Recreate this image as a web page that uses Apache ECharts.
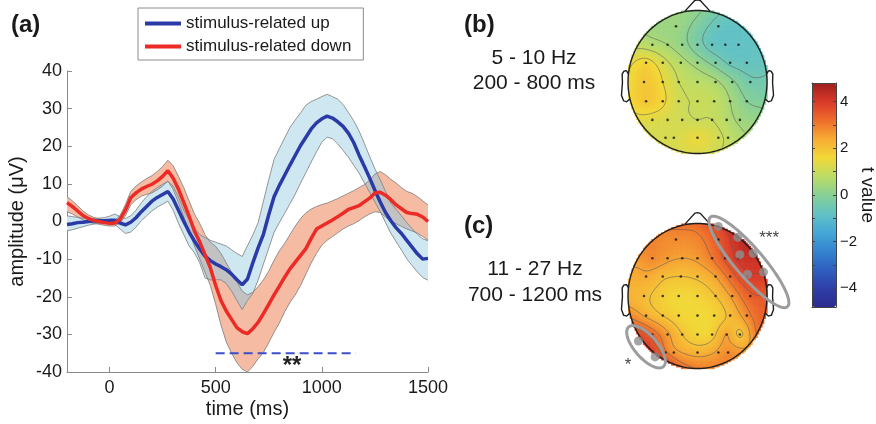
<!DOCTYPE html>
<html>
<head>
<meta charset="utf-8">
<script src="https://cdn.jsdelivr.net/npm/echarts@6/dist/echarts.min.js"></script>
<style>html,body{margin:0;padding:0;background:#fff}#chart{width:876px;height:424px}</style>
</head>
<body>
<div id="chart"></div>
<script>
// ===================== DATA =====================
const times = [-200,-175,-150,-125, -100,-75,-50,-25, 0,25,50,75, 100,125,150,175, 200,225,250,275,
  300,325,350,375, 400,425,450,475, 500,525,550,575, 600,625,650,675, 700,725,750,775, 800,825,850,875,
  900,925,950,975, 1000,1025,1050,1075, 1100,1125,1150,1175, 1200,1225,1250,1275, 1300,1325,1350,1375,
  1400,1425,1450,1475, 1500];

const blueMean = [-0.8,-0.6,-0.3,-0.2, 0.0,0.1,0.2,0.2, 0.3,0.3,-0.4,-0.9, -0.2,1.0,2.6,4.0, 5.4,6.4,7.2,8.0,
  6.0,3.0,0.0,-2.8, -5.2,-7.3,-9.2,-10.4, -11.3,-12.0,-12.8,-14.0, -15.5,-16.8,-15.3,-11.0, -7.0,-3.4,1.8,6.6,
  9.6,12.3,15.0,17.6, 20.2,22.4,24.6,26.2, 27.3,28.0,27.5,26.5, 25.3,23.5,21.0,17.7, 14.7,11.6,8.3,5.2,
  2.4,0.2,-1.7,-3.2, -5.0,-6.8,-8.6,-10.0, -9.8];
const blueHigh = [1.5,1.3,1.1,0.9, 0.8,0.8,0.9,1.0, 1.4,2.0,1.3,0.8, 1.5,3.0,5.0,6.6, 8.0,9.0,9.9,10.6,
  9.4,6.5,3.0,0.5, -1.7,-3.5,-4.3,-5.0, -5.5,-6.0,-6.5,-7.5, -8.5,-9.3,-6.4,-3.6, -0.3,5.4,11.1,16.5,
  19.4,22.2,25.0,27.0, 28.9,30.9,31.9,32.5, 33.2,33.8,33.2,32.5, 31.1,29.0,26.8,24.1, 20.8,17.3,14.0,11.1,
  8.0,4.9,3.2,1.5, -0.3,-1.9,-3.4,-4.6, -5.1];
const blueLow = [-2.5,-2.2,-1.8,-1.4, -1.0,-0.7,-0.5,-0.4, -0.5,-0.8,-2.0,-3.2, -2.8,-1.5,0.2,1.5, 2.8,3.8,4.6,5.4,
  3.0,-0.5,-3.5,-6.5, -8.3,-11.0,-15.0,-15.5, -15.5,-15.5,-16.5,-18.5, -21.0,-23.4,-21.0,-19.1, -15.6,-11.3,-7.1,-2.9,
  -0.3,2.2,4.7,7.3, 10.2,13.0,15.8,18.5, 21.1,22.4,22.0,20.6, 18.9,17.1,15.0,12.9, 10.3,7.8,5.2,2.6,
  -0.3,-3.1,-5.4,-7.6, -9.9,-11.7,-13.4,-14.9, -15.6];

const redMean = [5.0,4.0,2.8,1.6, 0.8,0.3,0.0,-0.3, -0.5,-0.4,0.6,3.0, 6.3,7.6,8.6,9.3, 9.9,10.8,12.0,13.5,
  11.5,8.6,5.0,1.4, -2.5,-5.4,-8.8,-12.3, -17.0,-21.0,-23.8,-26.0, -28.2,-29.3,-29.8,-28.5, -26.8,-24.5,-22.0,-19.5,
  -17.2,-14.8,-12.6,-10.8, -9.0,-7.2,-4.5,-2.0, -1.2,-0.4,0.4,1.3, 2.2,3.2,3.7,4.2, 5.2,6.2,7.6,7.8,
  7.0,5.8,4.4,3.4, 2.4,2.1,1.9,1.2, 0.0];
const redHigh = [6.6,5.5,4.2,2.8, 1.8,1.1,0.7,0.4, 0.2,0.4,1.6,4.5, 8.0,9.4,10.5,11.4, 12.2,13.3,14.6,16.3,
  14.8,12.0,9.0,5.5, 2.0,-0.5,-3.5,-5.5, -6.6,-8.5,-11.0,-13.5, -16.0,-18.5,-19.5,-18.8, -17.3,-15.5,-13.2,-10.3,
  -7.8,-5.8,-3.5,-1.2, 0.8,2.3,3.3,4.0, 4.5,4.9,5.5,6.1, 6.8,7.5,8.2,9.0, 9.8,11.0,12.6,13.3,
  12.4,11.2,10.2,9.0, 8.0,7.5,6.6,5.5, 4.4];
const redLow = [2.6,2.0,1.2,0.4, -0.2,-0.5,-0.7,-1.0, -1.2,-1.2,-0.4,1.5, 4.4,5.8,6.7,7.2, 7.6,8.4,9.4,10.8,
  8.5,5.0,1.2,-2.5, -6.5,-10.0,-13.5,-17.0, -22.0,-27.5,-32.0,-35.0, -37.5,-39.3,-40.0,-38.5, -36.5,-34.8,-32.2,-29.5,
  -27.0,-24.0,-21.5,-19.5, -17.0,-14.0,-11.0,-8.5, -6.3,-5.0,-4.0,-3.0, -2.0,-1.2,-0.6,0.2, 1.2,2.0,2.6,2.4,
  1.2,0.0,-0.6,-1.3, -2.0,-2.5,-3.1,-4.0, -4.9];

const seriesNames = ['stimulus-related up', 'stimulus-related down'];
const xTicks = [0, 500, 1000, 1500];
const sigWindow = [500, 1160];
const sigLevel = -35;
const sigStars = '**';
const sigStarsAt = [860, -38.5];

// electrode montage (normalised head coordinates) and t-values per electrode
const elecX = [-0.31,0.30,
  -0.65,-0.43,-0.22,0.0,0.21,0.40,0.59,
  -0.74,-0.50,-0.24,0.0,0.26,0.47,0.71,
  -0.77,-0.50,-0.27,0.0,0.26,0.50,0.76,
  -0.74,-0.50,-0.27,0.0,0.24,0.47,0.71,
  -0.65,-0.43,-0.22,0.0,0.21,0.42,0.61,
  -0.46,-0.34,0.0,0.30,0.44];
const elecY = [0.78,0.78,
  0.52,0.52,0.52,0.52,0.52,0.52,0.52,
  0.27,0.27,0.27,0.27,0.27,0.27,0.27,
  0.0,0.0,0.0,0.0,0.0,0.0,0.0,
  -0.27,-0.27,-0.27,-0.27,-0.27,-0.27,-0.27,
  -0.53,-0.53,-0.53,-0.53,-0.53,-0.53,-0.53,
  -0.78,-0.78,-0.78,-0.78,-0.78];
const ringAngles = [0,30,60,90,120,150,180,210,240,270,300,330];

const tValuesB = [0.3,-0.7,
  0.7,0.5,0.2,-0.3,-0.7,-0.8,-0.8,
  1.7,1.2,0.7,0.3,-0.2,-0.6,-0.7,
  1.9,1.5,1.0,0.8,0.6,0.1,-0.4,
  1.9,1.6,1.1,1.0,0.9,0.5,0.0,
  1.3,1.2,1.1,1.0,1.0,0.7,0.4,
  1.2,1.2,1.5,1.1,0.9];
const ringValuesB = [-0.4,-0.75,-0.75,0.1,0.3,0.9,1.5,1.4,1.2,1.2,0.8,0.2];

const tValuesC = [2.8,3.5,
  2.8,2.6,2.5,2.6,3.0,3.6,4.1,
  2.4,2.1,2.0,2.1,2.5,3.2,3.9,
  2.1,1.8,1.6,1.7,2.0,2.6,3.4,
  2.4,2.0,1.7,1.6,1.7,2.1,2.8,
  3.3,2.6,2.0,1.7,1.8,2.5,1.9,
  3.1,2.7,2.3,2.6,2.8];
const ringValuesC = [3.5,4.2,4.2,3.3,2.9,2.6,2.3,3.7,3.8,3.0,2.9,3.1];

const sigElecX = [0.30,0.58,0.61,0.80,0.72,0.95,1.01,-0.85,-0.61];
const sigElecY = [0.96,0.81,0.57,0.59,0.30,0.33,0.02,-0.62,-0.84];

const tRange = [-4.8, 4.8];
const cbTicks = [-4, -2, 0, 2, 4];
const cbMinorTicks = [-4, -3, -2, -1, 0, 1, 2, 3, 4];
const contourLevels = [-0.5, 0, 0.5, 1, 1.5, 2, 2.5, 3, 3.5, 4];
const topoCaptions = [['5 - 10 Hz', '200 - 800 ms'], ['11 - 27 Hz', '700 - 1200 ms']];

// ===================== STYLE =====================
const FONT = '"Liberation Sans", Arial, Helvetica, sans-serif';
const TXT = '#1a1a1a';
const AXC = '#8a8a8a';
const cmap = ['#2b2b8e','#2f3fa8','#2f5fc0','#3484cf','#45a8d6','#62c2c4','#88d095',
              '#bcdc66','#f2d837','#f7ab34','#ee6c2b','#d9392a','#9c1f1c'];

// ===================== HELPERS =====================
function biharmonic(px, py, pv) {
  const n = px.length;
  const g = r => r < 1e-9 ? 0 : r * r * (Math.log(r) - 1);
  const A = [];
  for (let i = 0; i < n; i++) {
    const row = [];
    for (let j = 0; j < n; j++) row.push(g(Math.hypot(px[i] - px[j], py[i] - py[j])));
    row.push(pv[i]);
    A.push(row);
  }
  for (let c = 0; c < n; c++) {
    let p = c;
    for (let r = c + 1; r < n; r++) if (Math.abs(A[r][c]) > Math.abs(A[p][c])) p = r;
    const tmp = A[c]; A[c] = A[p]; A[p] = tmp;
    for (let r = 0; r < n; r++) {
      if (r === c) continue;
      const f = A[r][c] / A[c][c];
      if (f !== 0) for (let k = c; k <= n; k++) A[r][k] -= f * A[c][k];
    }
  }
  const w = A.map((row, i) => row[n] / row[i]);
  return (x, y) => { let s = 0; for (let j = 0; j < n; j++) s += w[j] * g(Math.hypot(x - px[j], y - py[j])); return s; };
}

const NG = 84, HG = 2 / NG;
function buildTopo(vals, ringVals) {
  const px = elecX.concat(ringAngles.map(a => Math.cos(a * Math.PI / 180)));
  const py = elecY.concat(ringAngles.map(a => Math.sin(a * Math.PI / 180)));
  const f = biharmonic(px, py, vals.concat(ringVals));
  const grid = [], cells = [];
  for (let j = 0; j < NG; j++) {
    const row = [];
    for (let i = 0; i < NG; i++) {
      const x = -1 + (i + 0.5) * HG, y = -1 + (j + 0.5) * HG;
      const v = f(x, y);
      row.push(v);
      if (x * x + y * y <= Math.pow(1 + HG * 0.6, 2)) cells.push([x, y, v]);
    }
    grid.push(row);
  }
  return { grid, cells };
}
function contourSegs(grid) {
  const segs = [];
  for (const L of contourLevels) {
    for (let j = 0; j < NG - 1; j++) for (let i = 0; i < NG - 1; i++) {
      const x0 = -1 + (i + 0.5) * HG, y0 = -1 + (j + 0.5) * HG;
      const c = [[x0, y0, grid[j][i]], [x0 + HG, y0, grid[j][i + 1]], [x0 + HG, y0 + HG, grid[j + 1][i + 1]], [x0, y0 + HG, grid[j + 1][i]]];
      const pts = [];
      for (let k = 0; k < 4; k++) {
        const a = c[k], b = c[(k + 1) % 4];
        if ((a[2] - L) * (b[2] - L) < 0) {
          const t = (L - a[2]) / (b[2] - a[2]);
          pts.push([a[0] + t * (b[0] - a[0]), a[1] + t * (b[1] - a[1])]);
        }
      }
      for (let k = 0; k + 1 < pts.length; k += 2) {
        const p = pts[k], q = pts[k + 1];
        if (p[0] * p[0] + p[1] * p[1] <= 1 && q[0] * q[0] + q[1] * q[1] <= 1) segs.push([p, q]);
      }
    }
  }
  return segs;
}
const topoB = buildTopo(tValuesB, ringValuesB);
const topoC = buildTopo(tValuesC, ringValuesC);
const segsB = contourSegs(topoB.grid);
const segsC = contourSegs(topoC.grid);

// band overlap (intersection of the two bands), refined between samples
function refine(arr, sub) {
  const out = [];
  for (let i = 0; i < arr.length - 1; i++) for (let s = 0; s < sub; s++) out.push(arr[i] + (arr[i + 1] - arr[i]) * s / sub);
  out.push(arr[arr.length - 1]);
  return out;
}
function overlapPolys() {
  const S = 8;
  const tt = refine(times, S), bh = refine(blueHigh, S), bl = refine(blueLow, S), rh = refine(redHigh, S), rl = refine(redLow, S);
  const lo = tt.map((_, i) => Math.max(bl[i], rl[i]));
  const hi = tt.map((_, i) => Math.min(bh[i], rh[i]));
  const polys = []; let cur = null;
  const cross = (i, d) => {
    const dp = hi[i - 1] - lo[i - 1];
    const f = dp / (dp - d);
    return [tt[i - 1] + f * (tt[i] - tt[i - 1]), lo[i - 1] + f * (lo[i] - lo[i - 1])];
  };
  for (let i = 0; i < tt.length; i++) {
    const d = hi[i] - lo[i];
    if (d > 0) {
      if (!cur) { cur = { top: [], bot: [] }; if (i > 0) { const c = cross(i, d); cur.top.push(c); cur.bot.push(c); } }
      cur.top.push([tt[i], hi[i]]); cur.bot.push([tt[i], lo[i]]);
    } else if (cur) {
      const c = cross(i, d); cur.top.push(c); cur.bot.push(c); polys.push(cur); cur = null;
    }
  }
  if (cur) polys.push(cur);
  return polys.map(p => p.top.concat(p.bot.slice().reverse()));
}
const overlaps = overlapPolys();

const pairs = arr => times.map((t, i) => [t, arr[i]]);

// head geometry (EEGLAB-like)
const earX = [0.994, 1.02, 1.036, 1.06, 1.084, 1.08, 1.094, 1.064, 1.02, 0.978];
const earY = [0.111, 0.155, 0.157, 0.149, 0.111, -0.011, -0.186, -0.263, -0.277, -0.240];
const noseX = [0.18, 0.04, 0, -0.04, -0.18];
const noseY = [0.991, 1.14, 1.15, 1.14, 0.991];

function headRender(api) {
  const P = (x, y) => api.coord([x, y]);
  let d = '';
  for (let k = 0; k <= 160; k++) {
    const a = k / 160 * Math.PI * 2; const p = P(Math.cos(a), Math.sin(a));
    d += (k === 0 ? 'M' : 'L') + p[0].toFixed(2) + ' ' + p[1].toFixed(2);
  }
  const poly = (xs, ys, sx) => xs.map((x, i) => { const p = P(sx * x, ys[i]); return (i === 0 ? 'M' : 'L') + p[0].toFixed(2) + ' ' + p[1].toFixed(2); }).join('');
  d += poly(earX, earY, 1) + poly(earX, earY, -1) + poly(noseX, noseY, 1);
  return { type: 'path', shape: { pathData: d }, style: { fill: 'none', stroke: '#1e1e1e', lineWidth: 1.4 } };
}
function contourRender(api, segs) {
  let d = '';
  for (const s of segs) {
    const p = api.coord(s[0]), q = api.coord(s[1]);
    d += 'M' + p[0].toFixed(2) + ' ' + p[1].toFixed(2) + 'L' + q[0].toFixed(2) + ' ' + q[1].toFixed(2);
  }
  return { type: 'path', shape: { pathData: d }, style: { fill: 'none', stroke: '#5a5a5a', lineWidth: 0.8, opacity: 0.7 } };
}
function fieldRender(params, api) {
  const p = api.coord([api.value(0) - HG / 2, api.value(1) + HG / 2]);
  const s = api.size([HG, HG]);
  return { type: 'rect', shape: { x: p[0], y: p[1], width: s[0] + 0.6, height: s[1] + 0.6 }, style: { fill: api.visual('color') } };
}
function ellipsePath(api, cx, cy, a, b, angDeg) {
  const th = angDeg * Math.PI / 180; let d = '';
  for (let k = 0; k <= 120; k++) {
    const u = k / 120 * Math.PI * 2;
    const ex = a * Math.cos(u), ey = b * Math.sin(u);
    const p = api.coord([cx + ex * Math.cos(th) - ey * Math.sin(th), cy + ex * Math.sin(th) + ey * Math.cos(th)]);
    d += (k === 0 ? 'M' : 'L') + p[0].toFixed(2) + ' ' + p[1].toFixed(2);
  }
  return d;
}
function txt(x, y, text, font, align, fill) {
  return { type: 'text', x: x, y: y, silent: true,
    style: { text: text, font: font, fill: fill || TXT, align: align || 'center', textAlign: align || 'center', verticalAlign: 'middle', textVerticalAlign: 'middle' } };
}
const plain = v => String(v);

// ===================== CHART =====================
const chart = echarts.init(document.getElementById('chart'));
const option = {
  animation: false,
  textStyle: { fontFamily: FONT },
  legend: {
    data: seriesNames, orient: 'vertical', left: 138, top: 8,
    padding: [7, 12, 5, 7], itemGap: 6, itemWidth: 36, itemHeight: 4, icon: 'rect',
    borderColor: '#8c8c8c', borderWidth: 1, backgroundColor: '#fff',
    textStyle: { fontSize: 17, color: TXT, fontFamily: FONT }, selectedMode: false
  },
  grid: [
    { left: 67, top: 71, width: 361, height: 301, outerBoundsMode: 'none' },
    { left: 628, top: 10.5, width: 139, height: 143, outerBoundsMode: 'none' },
    { left: 628, top: 223.5, width: 139, height: 145, outerBoundsMode: 'none' },
    { left: 812, top: 83, width: 24, height: 224, outerBoundsMode: 'none' }
  ],
  xAxis: [
    { gridIndex: 0, type: 'value', min: -200, max: 1500,
      axisLine: { show: true, onZero: false, lineStyle: { color: AXC, width: 1 } },
      axisTick: { show: true, inside: true, length: 5, customValues: xTicks, lineStyle: { color: AXC } },
      axisLabel: { show: true, customValues: xTicks, formatter: plain, fontSize: 18, color: TXT, margin: 7, fontFamily: FONT },
      splitLine: { show: false },
      name: 'time (ms)', nameLocation: 'middle', nameGap: 27, nameMoveOverlap: false,
      nameTextStyle: { fontSize: 20, color: TXT, fontFamily: FONT } },
    { gridIndex: 1, type: 'value', min: -1, max: 1, show: false },
    { gridIndex: 2, type: 'value', min: -1, max: 1, show: false },
    { gridIndex: 3, type: 'value', min: 0, max: 1, position: 'bottom', z: 10,
      axisLine: { show: true, onZero: false, lineStyle: { color: '#444' } }, axisTick: { show: false }, axisLabel: { show: false }, splitLine: { show: false } },
    { gridIndex: 3, type: 'value', min: 0, max: 1, position: 'top', z: 10,
      axisLine: { show: true, onZero: false, lineStyle: { color: '#444' } }, axisTick: { show: false }, axisLabel: { show: false }, splitLine: { show: false } }
  ],
  yAxis: [
    { gridIndex: 0, type: 'value', min: -40, max: 40, interval: 10,
      axisLine: { show: true, onZero: false, lineStyle: { color: AXC, width: 1 } },
      axisTick: { show: true, inside: true, length: 5, lineStyle: { color: AXC } },
      axisLabel: { show: true, formatter: plain, fontSize: 18, color: TXT, margin: 5, fontFamily: FONT },
      splitLine: { show: false },
      name: 'amplitude (μV)', nameLocation: 'middle', nameGap: 40, nameMoveOverlap: false,
      nameTextStyle: { fontSize: 20, color: TXT, fontFamily: FONT } },
    { gridIndex: 1, type: 'value', min: -1, max: 1, show: false },
    { gridIndex: 2, type: 'value', min: -1, max: 1, show: false },
    { gridIndex: 3, type: 'value', min: tRange[0], max: tRange[1], position: 'right', z: 10,
      axisLine: { show: true, onZero: false, lineStyle: { color: '#444' } },
      axisTick: { show: true, inside: true, length: 3, customValues: cbMinorTicks, lineStyle: { color: '#444' } },
      axisLabel: { show: true, customValues: cbTicks, fontSize: 15, color: TXT, margin: 4, fontFamily: FONT,
                   formatter: v => String(v).replace('-', '\u2212') },
      splitLine: { show: false },
      name: 't value', nameLocation: 'middle', nameRotate: -90, nameGap: 22, nameMoveOverlap: false,
      nameTextStyle: { fontSize: 19, color: TXT, fontFamily: FONT } },
    { gridIndex: 3, type: 'value', min: tRange[0], max: tRange[1], position: 'left', z: 10,
      axisLine: { show: true, onZero: false, lineStyle: { color: '#444' } },
      axisTick: { show: true, inside: true, length: 3, customValues: cbMinorTicks, lineStyle: { color: '#444' } },
      axisLabel: { show: false }, splitLine: { show: false } }
  ],
  visualMap: {
    type: 'continuous', min: tRange[0], max: tRange[1], dimension: 2, seriesIndex: [8, 12],
    inRange: { color: cmap }, left: 812, top: 83, itemWidth: 24, itemHeight: 224, padding: 0,
    calculable: false, hoverLink: false, realtime: false, text: null, show: true
  },
  series: [
    // 0 band fills
    { type: 'custom', coordinateSystem: 'cartesian2d', xAxisIndex: 0, yAxisIndex: 0, data: [[0, 0]], silent: true, z: 1,
      renderItem: (params, api) => {
        const band = (hi, lo) => times.map((t, i) => api.coord([t, hi[i]])).concat(times.map((t, i) => api.coord([t, lo[i]])).reverse());
        const ch = [
          { type: 'polygon', shape: { points: band(redHigh, redLow) }, style: { fill: '#f5bba3' } },
          { type: 'polygon', shape: { points: band(blueHigh, blueLow) }, style: { fill: '#cfe7f1' } }
        ];
        overlaps.forEach(poly => ch.push({ type: 'polygon', shape: { points: poly.map(p => api.coord(p)) }, style: { fill: '#c2c2c2' } }));
        return { type: 'group', children: ch };
      } },
    // 1-4 band edges
    ...[blueHigh, blueLow, redHigh, redLow].map(arr => ({
      type: 'line', xAxisIndex: 0, yAxisIndex: 0, data: pairs(arr), showSymbol: false, silent: true, z: 2,
      lineStyle: { color: '#7c7c7c', width: 0.8 }, itemStyle: { color: '#7c7c7c' }
    })),
    // 5 blue mean
    { name: seriesNames[0], type: 'line', xAxisIndex: 0, yAxisIndex: 0, data: pairs(blueMean), showSymbol: false, silent: true, z: 3,
      color: '#2a3aa6', lineStyle: { color: '#2a3aa6', width: 3.5 } },
    // 6 red mean
    { name: seriesNames[1], type: 'line', xAxisIndex: 0, yAxisIndex: 0, data: pairs(redMean), showSymbol: false, silent: true, z: 4,
      color: '#ec2b26', lineStyle: { color: '#ec2b26', width: 3.5 } },
    // 7 significance window
    { type: 'line', xAxisIndex: 0, yAxisIndex: 0, data: sigWindow.map(t => [t, sigLevel]), showSymbol: false, silent: true, z: 5,
      lineStyle: { color: '#3a4fc8', width: 2, type: [9, 5] },
      markPoint: { silent: true, symbol: 'circle', symbolSize: 0, data: [{ coord: sigStarsAt, value: sigStars }],
        label: { show: true, position: 'inside', formatter: sigStars, fontSize: 24, fontWeight: 'bold', color: '#222', fontFamily: FONT } } },
    // 8 topo B field
    { type: 'custom', coordinateSystem: 'cartesian2d', xAxisIndex: 1, yAxisIndex: 1, data: topoB.cells, silent: true,
      progressive: 0, z: 1, encode: { x: 0, y: 1 }, renderItem: fieldRender },
    // 9 topo B contours
    { type: 'custom', coordinateSystem: 'cartesian2d', xAxisIndex: 1, yAxisIndex: 1, data: [[0, 0]], silent: true, z: 2,
      renderItem: (params, api) => contourRender(api, segsB) },
    // 10 topo B head
    { type: 'custom', coordinateSystem: 'cartesian2d', xAxisIndex: 1, yAxisIndex: 1, data: [[0, 0]], silent: true, z: 3,
      renderItem: (params, api) => headRender(api) },
    // 11 topo B electrodes
    { type: 'scatter', xAxisIndex: 1, yAxisIndex: 1, data: elecX.map((x, i) => [x, elecY[i]]), symbolSize: 2.6,
      itemStyle: { color: '#111' }, silent: true, z: 4 },
    // 12 topo C field
    { type: 'custom', coordinateSystem: 'cartesian2d', xAxisIndex: 2, yAxisIndex: 2, data: topoC.cells, silent: true,
      progressive: 0, z: 1, encode: { x: 0, y: 1 }, renderItem: fieldRender },
    // 13 topo C contours
    { type: 'custom', coordinateSystem: 'cartesian2d', xAxisIndex: 2, yAxisIndex: 2, data: [[0, 0]], silent: true, z: 2,
      renderItem: (params, api) => contourRender(api, segsC) },
    // 14 topo C head
    { type: 'custom', coordinateSystem: 'cartesian2d', xAxisIndex: 2, yAxisIndex: 2, data: [[0, 0]], silent: true, z: 3,
      renderItem: (params, api) => headRender(api) },
    // 15 topo C electrodes
    { type: 'scatter', xAxisIndex: 2, yAxisIndex: 2, data: elecX.map((x, i) => [x, elecY[i]]), symbolSize: 2.6,
      itemStyle: { color: '#111' }, silent: true, z: 4 },
    // 16 topo C significant electrodes
    { type: 'scatter', xAxisIndex: 2, yAxisIndex: 2, data: sigElecX.map((x, i) => [x, sigElecY[i]]), symbolSize: 9,
      itemStyle: { color: '#8e8e8e' }, silent: true, z: 5 },
    // 17 topo C cluster ellipses + stars
    { type: 'custom', coordinateSystem: 'cartesian2d', xAxisIndex: 2, yAxisIndex: 2, data: [[0, 0]], silent: true, z: 6,
      renderItem: (params, api) => {
        const d = ellipsePath(api, 0.74, 0.47, 0.83, 0.2, -48) + ellipsePath(api, -0.74, -0.70, 0.37, 0.16, -47);
        const s3 = api.coord([1.03, 0.80]), s1 = api.coord([-1.0, -0.95]);
        return { type: 'group', children: [
          { type: 'path', shape: { pathData: d }, style: { fill: 'none', stroke: '#9c9c9c', lineWidth: 3 } },
          txt(s3[0], s3[1], '***', '17px ' + FONT, 'center', '#444'),
          txt(s1[0], s1[1], '*', '17px ' + FONT, 'center', '#444')
        ] };
      } }
  ],
  graphic: [
    txt(11, 25, '(a)', 'bold 24px ' + FONT, 'left'),
    txt(464, 25, '(b)', 'bold 24px ' + FONT, 'left'),
    txt(464, 226, '(c)', 'bold 24px ' + FONT, 'left'),
    txt(534, 58, topoCaptions[0][0], '21px ' + FONT),
    txt(534, 83, topoCaptions[0][1], '21px ' + FONT),
    txt(535, 269, topoCaptions[1][0], '21px ' + FONT),
    txt(535, 295, topoCaptions[1][1], '21px ' + FONT)
  ]
};
chart.setOption(option);
</script>
</body>
</html>
